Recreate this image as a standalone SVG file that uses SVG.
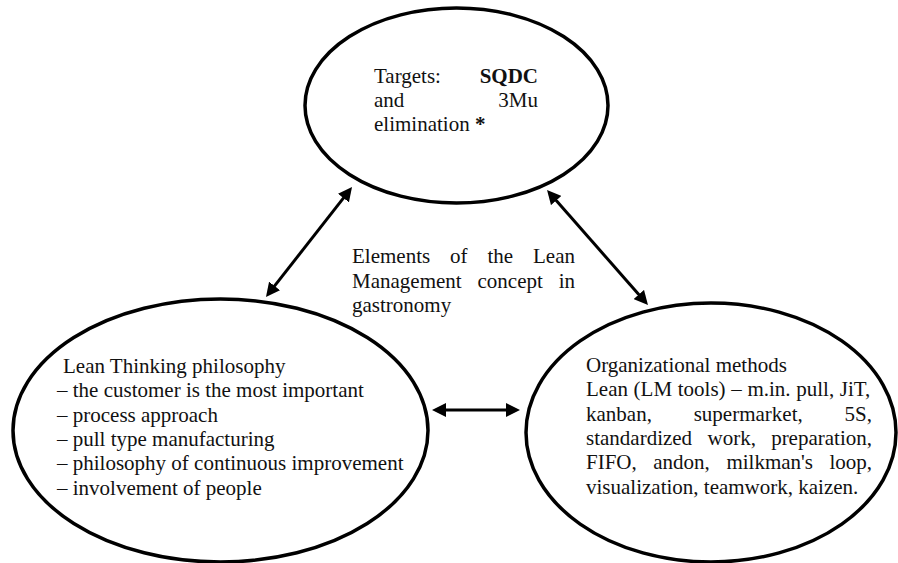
<svg xmlns="http://www.w3.org/2000/svg" width="898" height="563" viewBox="0 0 898 563">
<style>
.bg{fill:#fff}
.node{fill:#fff;stroke:#000;stroke-width:3.5}
.t{font-family:'Times New Roman','Liberation Serif',Tinos,serif;font-size:21px;fill:#111}
.b{font-weight:bold}
.e{text-anchor:end}
.conn line{stroke:#000;stroke-width:3}
</style>
<defs>
<marker id="ah" markerUnits="userSpaceOnUse" markerWidth="16" markerHeight="14" viewBox="0 0 16 14" refX="6" refY="7" orient="auto-start-reverse">
<path d="M0,0 L14,7 L0,14 z" fill="#000"/>
</marker>
</defs>
<rect class="bg" x="0" y="0" width="898" height="563"/>
<g id="targets">
<ellipse class="node" cx="456.5" cy="105.5" rx="151.5" ry="97.5"/>
<text class="t" x="374" y="83">Targets:</text>
<text class="t b e" x="538" y="83">SQDC</text>
<text class="t" x="374" y="107">and</text>
<text class="t e" x="538" y="107">3Mu</text>
<text class="t" x="374" y="131">elimination <tspan class="b">*</tspan></text>
</g>
<g id="lean-thinking">
<ellipse class="node" cx="220.5" cy="430.5" rx="207.5" ry="131.5"/>
<text class="t" x="63" y="373">Lean Thinking philosophy</text>
<text class="t" x="57" y="397.3">– the customer is the most important</text>
<text class="t" x="57" y="421.6">– process approach</text>
<text class="t" x="57" y="445.9">– pull type manufacturing</text>
<text class="t" x="57" y="470.2">– philosophy of continuous improvement</text>
<text class="t" x="57" y="494.5">– involvement of people</text>
</g>
<g id="org-methods">
<ellipse class="node" cx="711" cy="432.5" rx="185" ry="129.5"/>
<text class="t" x="586" y="372">Organizational methods</text>
<text class="t" x="586" y="396.3" word-spacing="0.4">Lean (LM tools) – m.in. pull, JiT,</text>
<text class="t" x="586" y="420.6">kanban,</text>
<text class="t" x="693.7" y="420.6">supermarket,</text>
<text class="t e" x="872" y="420.6">5S,</text>
<text class="t" x="586" y="444.9">standardized</text>
<text class="t" x="707.6" y="444.9">work,</text>
<text class="t e" x="872" y="444.9">preparation,</text>
<text class="t" x="586" y="469.2">FIFO,</text>
<text class="t" x="653.3" y="469.2">andon,</text>
<text class="t" x="726.4" y="469.2">milkman's</text>
<text class="t e" x="872" y="469.2">loop,</text>
<text class="t" x="586" y="493.5">visualization, teamwork, kaizen.</text>
</g>
<g id="title">
<text class="t" x="352" y="263">Elements</text>
<text class="t" x="450.1" y="263">of</text>
<text class="t" x="487.5" y="263">the</text>
<text class="t e" x="575" y="263">Lean</text>
<text class="t" x="352" y="287.5">Management</text>
<text class="t" x="477.5" y="287.5">concept</text>
<text class="t e" x="575" y="287.5">in</text>
<text class="t" x="352" y="312">gastronomy</text>
</g>
<g id="connectors" class="conn">
<line x1="270.9" y1="290.7" x2="347.1" y2="193.3" marker-start="url(#ah)" marker-end="url(#ah)"/>
<line x1="552.3" y1="196" x2="642.7" y2="299" marker-start="url(#ah)" marker-end="url(#ah)"/>
<line x1="440" y1="410" x2="512" y2="410" marker-start="url(#ah)" marker-end="url(#ah)"/>
</g>
</svg>
